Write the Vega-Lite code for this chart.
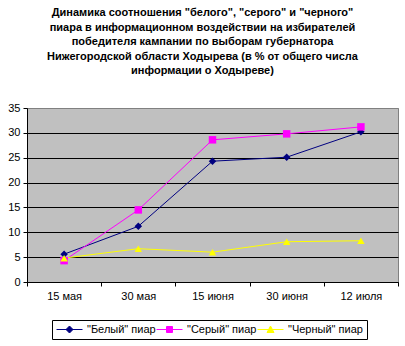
{
  "$schema": "https://vega.github.io/schema/vega-lite/v6.json",
  "width": 371,
  "height": 174,
  "autosize": {"type": "none"},
  "padding": {"left": 27, "top": 108, "right": 7, "bottom": 64},
  "background": "white",
  "title": {
    "text": ["Динамика соотношения \"белого\", \"серого\" и \"черного\"", "пиара в информационном воздействии на избирателей", "победителя кампании по выборам губернатора", "Нижегородской области Ходырева (в % от общего числа", "информации о Ходыреве)"],
    "font": "Liberation Sans",
    "fontSize": 11,
    "fontWeight": "bold",
    "lineHeight": 14.5,
    "anchor": "middle",
    "dx": -10,
    "offset": 26,
    "color": "black"
  },
  "config": {
    "view": {"fill": "#C0C0C0", "stroke": "#808080", "strokeWidth": 1},
    "font": "Liberation Sans"
  },
  "data": {
    "values": [
      {"date": "15 мая", "series": "\"Белый\" пиар", "value": 5.6},
      {"date": "30 мая", "series": "\"Белый\" пиар", "value": 11.2},
      {"date": "15 июня", "series": "\"Белый\" пиар", "value": 24.3},
      {"date": "30 июня", "series": "\"Белый\" пиар", "value": 25.1},
      {"date": "12 июля", "series": "\"Белый\" пиар", "value": 30.2},
      {"date": "15 мая", "series": "\"Серый\" пиар", "value": 4.3},
      {"date": "30 мая", "series": "\"Серый\" пиар", "value": 14.5},
      {"date": "15 июня", "series": "\"Серый\" пиар", "value": 28.6},
      {"date": "30 июня", "series": "\"Серый\" пиар", "value": 29.8},
      {"date": "12 июля", "series": "\"Серый\" пиар", "value": 31.2},
      {"date": "15 мая", "series": "\"Черный\" пиар", "value": 4.8},
      {"date": "30 мая", "series": "\"Черный\" пиар", "value": 6.7},
      {"date": "15 июня", "series": "\"Черный\" пиар", "value": 6.0},
      {"date": "30 июня", "series": "\"Черный\" пиар", "value": 8.1},
      {"date": "12 июля", "series": "\"Черный\" пиар", "value": 8.3}
    ]
  },
  "encoding": {
    "x": {
      "field": "date",
      "type": "ordinal",
      "sort": null,
      "scale": {"type": "band", "paddingInner": 0, "paddingOuter": 0},
      "bandPosition": 0.5,
      "axis": {
        "title": null,
        "labelAngle": 0,
        "tickBand": "extent",
        "tickColor": "black",
        "tickSize": 4,
        "domainColor": "black",
        "labelFontSize": 11,
        "labelColor": "black",
        "labelPadding": 4,
        "grid": false
      }
    },
    "y": {
      "field": "value",
      "type": "quantitative",
      "scale": {"domain": [0, 35], "nice": false},
      "axis": {
        "title": null,
        "values": [0, 5, 10, 15, 20, 25, 30, 35],
        "tickColor": "black",
        "tickSize": 4,
        "domainColor": "black",
        "labelFontSize": 11,
        "labelColor": "black",
        "labelPadding": 3,
        "grid": true,
        "gridColor": {"condition": {"test": "datum.value == 35", "value": "#808080"}, "value": "black"},
        "gridOpacity": 1
      }
    },
    "color": {
      "field": "series",
      "type": "nominal",
      "sort": null,
      "scale": {"range": ["#000080", "#FF00FF", "#FFFF00"]},
      "legend": {
        "orient": "none",
        "legendX": 25,
        "legendY": 212,
        "direction": "horizontal",
        "gridAlign": "none",
        "title": null,
        "strokeColor": "black",
        "fillColor": "white",
        "padding": 4,
        "labelFontSize": 11,
        "labelColor": "black",
        "labelOffset": 20,
        "columnPadding": -2,
        "symbolSize": 100,
        "symbolStrokeWidth": 1,
        "encode": {
          "symbols": {
            "update": {
              "shape": {"signal": "test(/Бел/, datum.value) ? 'M-1,0H4.2M1.6,-0.7L2.3,0L1.6,0.7L0.9,0Z' : test(/Сер/, datum.value) ? 'M-1,0H4.2M1,-0.6H2.2V0.6H1Z' : 'M-1,0H4.2M1.6,-0.7L2.3,0.6H0.9Z'"},
              "fill": {"signal": "scale('color', datum.value)"},
              "stroke": {"signal": "scale('color', datum.value)"},
              "opacity": {"value": 1}
            }
          }
        }
      }
    }
  },
  "layer": [
    {"mark": {"type": "line", "strokeWidth": 1}},
    {
      "mark": {"type": "point", "filled": true, "opacity": 1, "size": 56},
      "encoding": {
        "shape": {
          "field": "series",
          "type": "nominal",
          "sort": null,
          "scale": {"range": ["diamond", "square", "triangle-up"]},
          "legend": null
        }
      }
    }
  ]
}
